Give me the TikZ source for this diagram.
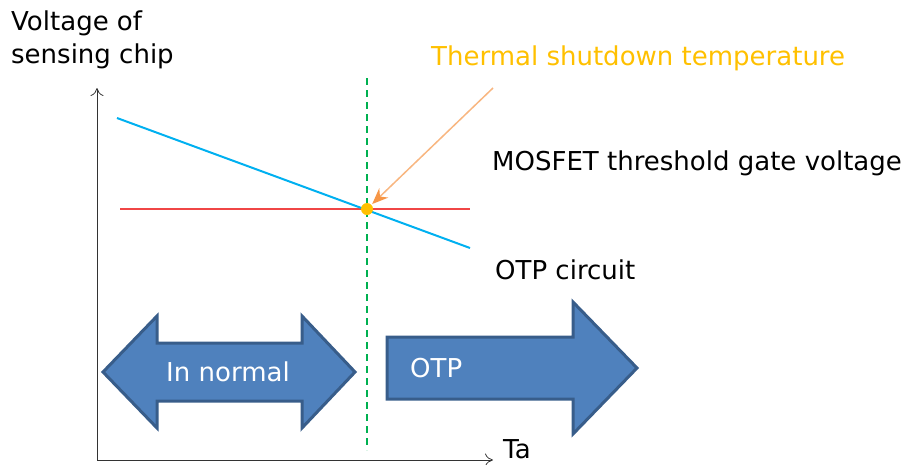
\documentclass[tikz,border=0pt]{standalone}
\usepackage{fontspec}
\setmainfont{DejaVu Sans}
\usepackage{tikz}
\usetikzlibrary{positioning, calc, arrows.meta}
\definecolor{otpblue}{RGB}{79,129,189}
\definecolor{otpedge}{RGB}{56,93,138}
\definecolor{senseline}{RGB}{0,176,240}
\definecolor{gateline}{RGB}{240,70,70}
\definecolor{tsdgreen}{RGB}{0,176,80}
\definecolor{tsdgold}{RGB}{255,192,0}
\definecolor{tsdorange}{RGB}{248,182,128}
\definecolor{tiporange}{RGB}{247,150,70}
\tikzset{
  axis/.style={draw=black!80, line width=0.8pt, -{To[length=8pt,width=13pt]}},
  bigarrow/.style={fill=otpblue, draw=otpedge, line width=3pt, line join=miter},
  lbl/.style={font=\fontsize{26}{31}\selectfont, inner sep=0pt, anchor=west},
  inlbl/.style={font=\fontsize{26}{31}\selectfont, text=white, inner sep=0pt}
}

\begin{document}
\begin{tikzpicture}[x=1pt, y=-1pt]
\useasboundingbox (0,0) rectangle (902,464);
\pgfmathsetmacro{\xaxis}{97}
\pgfmathsetmacro{\yaxis}{460}
\pgfmathsetmacro{\tsd}{367}

\coordinate (origin) at (\xaxis,\yaxis);
\coordinate (ytop) at (\xaxis,88);
\coordinate (xend) at (493,\yaxis);
\draw[axis] (origin) -- (ytop);
\draw[axis] (origin) -- (xend);
\node[lbl, align=left, anchor=north west, font=\fontsize{26}{33}\selectfont] (ylabel) at (11,11) {Voltage of\\sensing chip};
\node[lbl] (xlabel) at (503,449) {Ta};

\draw[tsdgreen, line width=2pt, dash pattern=on 7pt off 5pt] (\tsd,78) -- (\tsd,450);

\draw[gateline, line width=1.2pt] (120,209) -- (470,209);
\draw[senseline, line width=2pt] (117,118) -- (470,248);
\node[circle, fill=tsdgold, inner sep=0pt, minimum size=12pt] (cross) at (\tsd,209) {};

\coordinate (tsdstart) at (493,88);
\draw[tsdorange, line width=1.5pt, -{Stealth[color=tiporange, length=16pt, width=13pt]}, shorten >=1pt] (tsdstart) -- (cross);

\node[lbl, text=tsdgold] (tsdlabel) at (431,58) {Thermal shutdown temperature};
\node[lbl] (gatelabel) at (492,163) {MOSFET threshold gate voltage};
\node[lbl] (otplabel) at (495,270) {OTP circuit};

\draw[bigarrow] (103,372) -- (157,316) -- (157,343) -- (302,343) -- (302,316)
  -- (355,372) -- (302,428) -- (302,401) -- (157,401) -- (157,428) -- cycle;
\node[inlbl] (normal) at (228,372) {In normal};

\draw[bigarrow] (387,337) -- (573,337) -- (573,302) -- (637,368) -- (573,434)
  -- (573,399) -- (387,399) -- cycle;
\node[inlbl, anchor=west] (otp) at (410,368) {OTP};
\end{tikzpicture}
\end{document}
